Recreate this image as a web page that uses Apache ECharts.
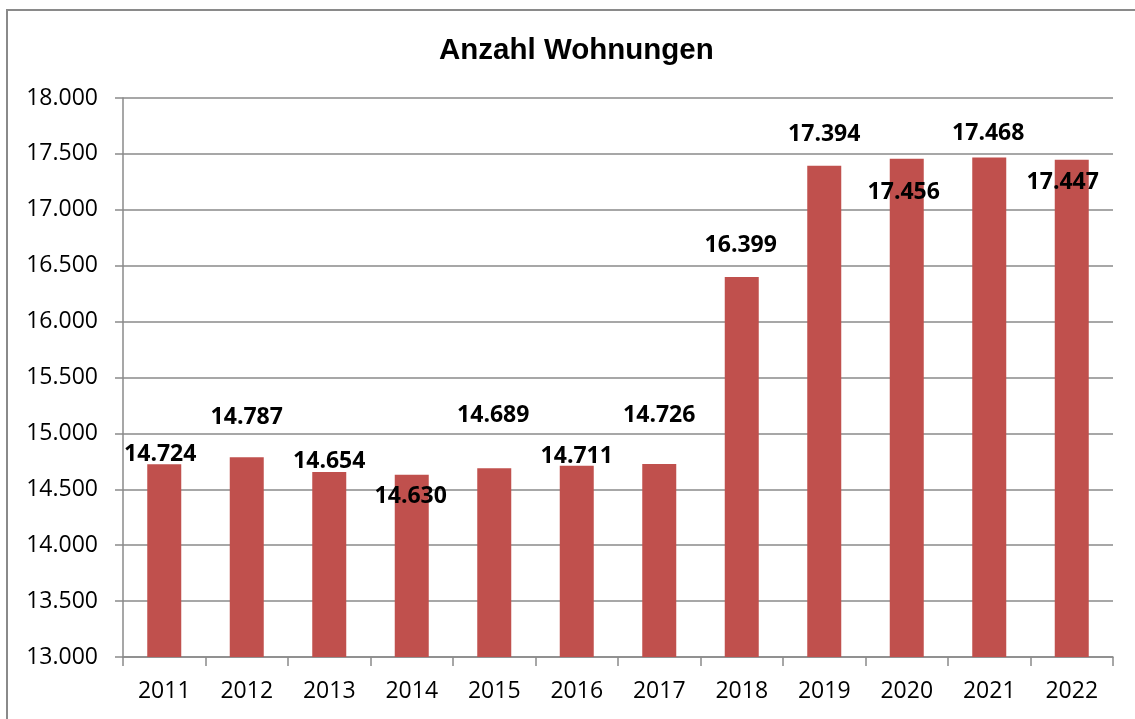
<!DOCTYPE html>
<html>
<head>
<meta charset="utf-8">
<script src="https://cdn.jsdelivr.net/npm/echarts@6/dist/echarts.min.js"></script>
<style>
  html, body { margin: 0; padding: 0; background: #fff; }
</style>
</head>
<body>
<!-- chart container -->
<div id="chartBox" style="width:1135px; height:719px"></div>
<script>
// data
var years = ["2011", "2012", "2013", "2014", "2015", "2016", "2017", "2018", "2019", "2020", "2021", "2022"];
var wohnungen = [14724, 14787, 14654, 14630, 14689, 14711, 14726, 16399, 17394, 17456, 17468, 17447];
var yTicks = [13000, 13500, 14000, 14500, 15000, 15500, 16000, 16500, 17000, 17500, 18000];

// label nudges (Excel had labels dragged around by hand)
var labelShift = [[-4, -1], [0, -31], [0, -2], [-1, 30], [-1, -44], [0, -1], [0, -40], [-1, -23], [0, -23], [-3, 42], [-1, -16], [-9, 31]];

// 14724 -> "14.724"
function fmt(v) {
  return (v / 1000).toFixed(3);
}

var myChart = echarts.init(document.getElementById("chartBox"));

var barData = wohnungen.map(function (v, i) {
  return {
    value: v,
    label: { offset: labelShift[i] }
  };
});

myChart.setOption({
  animation: false,
  title: {
    text: "Anzahl Wohnungen",
    left: 434,
    top: 31,
    textStyle: {
      fontFamily: "Liberation Sans",
      fontWeight: "bold",
      fontSize: 29.5,
      color: "#000"
    }
  },
  graphic: [
    {
      type: "rect",
      shape: { x: 7, y: 10, width: 1140, height: 720 },
      style: { fill: "none", stroke: "#8a8a8a", lineWidth: 2 },
      silent: true
    }
  ],
  grid: {
    left: 123,
    right: 22,
    top: 98,
    bottom: 62
  },
  xAxis: {
    type: "category",
    data: years,
    axisLine: { lineStyle: { color: "#8a8a8a", width: 1.5 } },
    axisTick: { show: true, length: 9, lineStyle: { color: "#8a8a8a", width: 1.5 } },
    axisLabel: {
      margin: 23,
      fontFamily: "Open Sans",
      fontSize: 23,
      color: "#000"
    }
  },
  yAxis: {
    type: "value",
    min: yTicks[0],
    max: yTicks[yTicks.length - 1],
    interval: 500,
    axisLine: { show: true, lineStyle: { color: "#8a8a8a", width: 1.5 } },
    axisTick: { show: true, length: 8, lineStyle: { color: "#8a8a8a", width: 1.5 } },
    splitLine: { show: true, lineStyle: { color: "#8a8a8a", width: 1.5 } },
    axisLabel: {
      margin: 25,
      fontFamily: "Open Sans",
      fontSize: 23,
      color: "#000",
      formatter: function (v) { return fmt(v); }
    }
  },
  series: [
    {
      type: "bar",
      data: barData,
      barWidth: 34,
      itemStyle: { color: "#C0504D" },
      label: {
        show: true,
        position: "top",
        distance: -3,
        fontFamily: "Open Sans",
        fontWeight: "bold",
        fontSize: 23,
        color: "#000",
        formatter: function (p) { return fmt(p.value); }
      }
    }
  ]
});
</script>
</body>
</html>
